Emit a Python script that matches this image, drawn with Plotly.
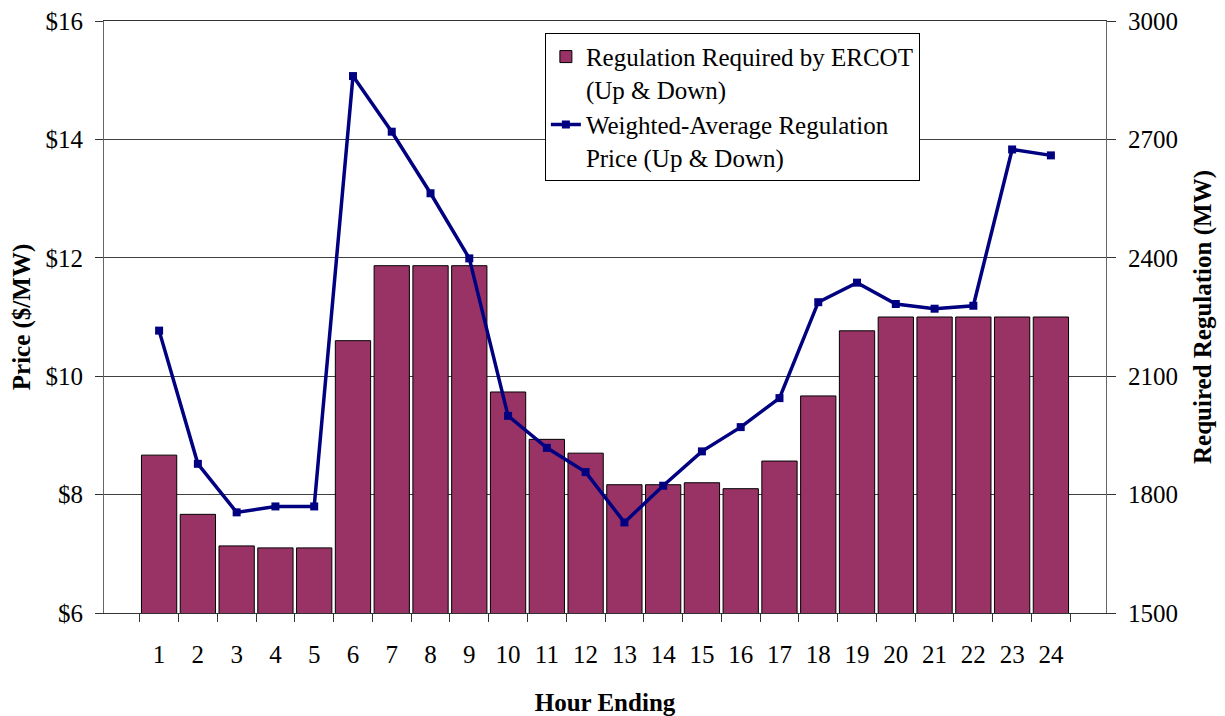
import plotly.graph_objects as go

# Hour ending categories
hours = [str(h) for h in range(1, 25)]

# Regulation required by ERCOT (MW)
reg_mw = [1900, 1750, 1670, 1665, 1665, 2190, 2380, 2380, 2380, 2060, 1940, 1905,
          1825, 1825, 1830, 1815, 1885, 2050, 2215, 2250, 2250, 2250, 2250, 2250]

# Weighted-average regulation price ($/MW)
price = [10.77, 8.52, 7.70, 7.80, 7.80, 15.07, 14.13, 13.09, 11.99, 9.33, 8.79, 8.38,
         7.53, 8.15, 8.73, 9.14, 9.63, 11.25, 11.58, 11.22, 11.14, 11.19, 13.83, 13.73]

price_ticks = [6, 8, 10, 12, 14, 16]
price_labels = ["$6", "$8", "$10", "$12", "$14", "$16"]
mw_ticks = [1500, 1800, 2100, 2400, 2700, 3000]

FONT = "Liberation Serif"
FS = 25

fig = go.Figure()

fig.add_trace(go.Bar(
    x=hours,
    y=reg_mw,
    yaxis="y",
    name="Regulation Required by ERCOT<br>(Up & Down)",
    marker=dict(color="#993366", line=dict(color="black", width=1)),
))

fig.add_trace(go.Scatter(
    x=hours,
    y=price,
    yaxis="y2",
    mode="lines+markers",
    name="Weighted-Average Regulation<br>Price (Up & Down)",
    line=dict(color="#000080", width=3.5),
    marker=dict(symbol="square", size=8, color="#000080"),
))

# page body has an 8px margin, so the figure is sized to fit inside the window
fig.update_layout(
    width=1217,
    height=708,
    margin=dict(l=96, r=119, t=13, b=103),
    paper_bgcolor="white",
    plot_bgcolor="white",
    font=dict(family=FONT, size=FS, color="black"),
    bargap=0.09,
    showlegend=True,
    legend=dict(
        x=0.44, y=0.98, xanchor="left", yanchor="top",
        bgcolor="white", bordercolor="black", borderwidth=1,
        font=dict(family=FONT, size=FS, color="black"),
        valign="top",
        tracegroupgap=4,
    ),
    xaxis=dict(
        type="category",
        tickson="boundaries",
        ticks="outside",
        ticklen=8,
        tickcolor="#333",
        showline=True,
        mirror=True,
        linecolor="#333",
        showgrid=False,
        ticklabelstandoff=19,
        title=dict(text="<b>Hour Ending</b>", standoff=26,
                   font=dict(family=FONT, size=FS)),
        automargin=False,
    ),
    yaxis=dict(
        side="right",
        range=[1500, 3000],
        tickvals=mw_ticks,
        ticks="outside",
        ticklen=9,
        tickcolor="#333",
        showline=True,
        linecolor="#666",
        showgrid=True,
        gridcolor="#404040",
        gridwidth=1,
        zeroline=False,
        ticklabelstandoff=7,
        ticklabeloverflow="allow",
        title=dict(text="<b>Required Regulation (MW)</b>", standoff=16,
                   font=dict(family=FONT, size=FS)),
        automargin=False,
    ),
    yaxis2=dict(
        side="left",
        overlaying="y",
        range=[6, 16],
        tickmode="array",
        tickvals=price_ticks,
        ticktext=price_labels,
        ticks="outside",
        ticklen=8,
        tickcolor="#333",
        showline=True,
        linecolor="#666",
        showgrid=False,
        zeroline=False,
        ticklabelstandoff=7,
        ticklabeloverflow="allow",
        title=dict(text="<b>Price ($/MW)</b>", standoff=12,
                   font=dict(family=FONT, size=FS)),
        automargin=False,
    ),
)

fig.write_html("out.html")
